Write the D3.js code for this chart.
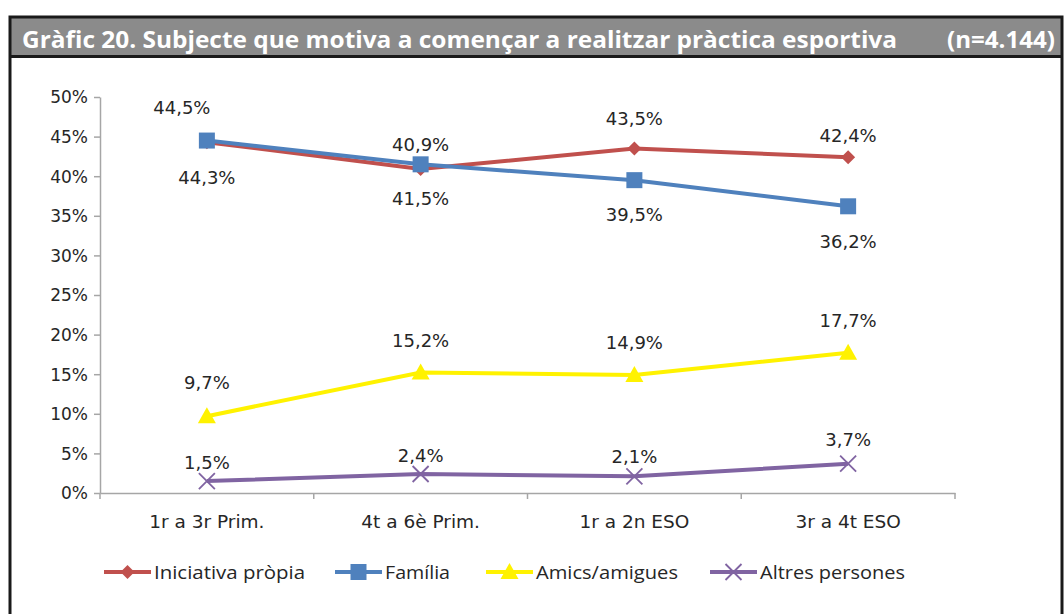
<!DOCTYPE html>
<html>
<head>
<meta charset="utf-8">
<script src="https://cdn.jsdelivr.net/npm/d3@7"></script>
<style>
  body { margin: 0; background: #fff; }
  text { font-family: "DejaVu Sans", Verdana, sans-serif; fill: #262626; }
</style>
</head>
<body>
<script>
// chart values
var categories = ["1r a 3r Prim.", "4t a 6è Prim.", "1r a 2n ESO", "3r a 4t ESO"];
var seriesNames = ["Iniciativa pròpia", "Família", "Amics/amigues", "Altres persones"];
var iniciativa = [44.3, 40.9, 43.5, 42.4];
var familia = [44.5, 41.5, 39.5, 36.2];
var amics = [9.7, 15.2, 14.9, 17.7];
var altres = [1.5, 2.4, 2.1, 3.7];
var yTicks = [0, 5, 10, 15, 20, 25, 30, 35, 40, 45, 50];
var title = "Gràfic 20. Subjecte que motiva a començar a realitzar pràctica esportiva";
var nLabel = "(n=4.144)";

window.onload = function(){
	var w = 1064, h = 614;
	var svg = d3.select("body").append("svg")
		.attr("width", w)
		.attr("height", h);

	//frame + header band
	svg.append("rect")
		.attr("x", 10).attr("y", 17)
		.attr("width", 1051).attr("height", 40)
		.style("fill", "#8b8b8b");
	svg.append("path")
		.attr("d", "M10,620 V17 H1062 V620 M10,56.5 H1062")
		.style("fill", "none")
		.style("stroke", "#1a1a1a")
		.style("stroke-width", 3);

	svg.append("text")
		.attr("x", 22).attr("y", 48)
		.style("fill", "#fff")
		.style("font-family", "'Open Sans', sans-serif")
		.style("font-weight", "bold")
		.style("font-size", "24px")
		.attr("textLength", 875)
		.attr("lengthAdjust", "spacingAndGlyphs")
		.text(title);
	svg.append("text")
		.attr("x", 1055).attr("y", 48)
		.attr("text-anchor", "end")
		.style("fill", "#fff")
		.style("font-family", "'Open Sans', sans-serif")
		.style("font-weight", "bold")
		.style("font-size", "24px")
		.attr("textLength", 108)
		.attr("lengthAdjust", "spacingAndGlyphs")
		.text(nLabel);

	//scales
	var x = d3.scaleBand().domain(categories).range([100, 955]);
	var y = d3.scaleLinear().domain([0, 50]).range([493, 97]);
	var cx = function(c){ return x(c) + x.bandwidth() / 2; };

	//axes
	var yAxis = svg.append("g")
		.attr("class", "axis")
		.attr("transform", "translate(100,0)")
		.call(d3.axisLeft(y).tickValues(yTicks).tickSize(6).tickSizeOuter(0)
			.tickFormat(function(d){ return d + "%"; }));
	var xAxis = svg.append("g")
		.attr("class", "axis")
		.attr("transform", "translate(0,493)")
		.call(d3.axisBottom(x).tickSize(0).tickSizeOuter(0));
	//category separators
	xAxis.selectAll(".sep")
		.data(d3.range(categories.length + 1))
		.enter().append("line")
		.attr("x1", function(i){ return 100 + i * x.bandwidth(); })
		.attr("x2", function(i){ return 100 + i * x.bandwidth(); })
		.attr("y1", 0).attr("y2", 6)
		.style("stroke", "#a6a6a6").style("stroke-width", 1.5);

	svg.selectAll(".axis path, .axis line").style("stroke", "#a6a6a6").style("stroke-width", 1.5);
	yAxis.selectAll("text").attr("x", -12).attr("dy", "0.35em").style("font-size", "17px").style("font-family", "'DejaVu Sans', sans-serif").style("fill", "#262626");
	xAxis.selectAll("text").attr("y", 22).attr("dy", "0.71em").style("font-size", "18.5px").style("font-family", "'DejaVu Sans', sans-serif").style("fill", "#262626");

	//series
	var series = [
		{name: seriesNames[0], values: iniciativa, color: "#C0504D", marker: "diamond", labelDy: [36, -24, -30, -21]},
		{name: seriesNames[1], values: familia, color: "#4F81BD", marker: "square", labelDy: [-33, 34, 35, 35], labelDx: [-25, 0, 0, 0]},
		{name: seriesNames[2], values: amics, color: "#FFF200", marker: "triangle", labelDy: [-33, -32, -32, -32]},
		{name: seriesNames[3], values: altres, color: "#8064A2", marker: "cross", labelDy: [-18, -18, -20, -24]}
	];

	var line = d3.line()
		.x(function(d, i){ return cx(categories[i]); })
		.y(function(d){ return y(d); });

	function drawMarker(g, type, color){
		if (type === "diamond") {
			g.append("path").attr("d", "M0,-7 L7,0 L0,7 L-7,0 Z").style("fill", color);
		} else if (type === "square") {
			g.append("rect").attr("x", -8).attr("y", -8).attr("width", 16).attr("height", 16).style("fill", color);
		} else if (type === "triangle") {
			g.append("path").attr("d", "M0,-9 L9,7 L-9,7 Z").style("fill", color);
		} else {
			g.append("path").attr("d", "M-8,-8 L8,8 M-8,8 L8,-8").style("stroke", color).style("stroke-width", 1.8).style("fill", "none");
		}
	}

	series.forEach(function(s){
		svg.append("path")
			.datum(s.values)
			.attr("d", line)
			.style("fill", "none")
			.style("stroke", s.color)
			.style("stroke-width", 4);

		s.values.forEach(function(v, i){
			var g = svg.append("g").attr("transform", "translate(" + cx(categories[i]) + "," + y(v) + ")");
			drawMarker(g, s.marker, s.color);
		});
	});

	//data labels on top
	series.forEach(function(s){
		svg.selectAll(null)
			.data(s.values)
			.enter().append("text")
			.attr("x", function(d, i){ return cx(categories[i]) + (s.labelDx ? s.labelDx[i] : 0); })
			.attr("y", function(d, i){ return y(d) + s.labelDy[i]; })
			.attr("dy", "0.35em")
			.attr("text-anchor", "middle")
			.style("font-size", "18px")
			.text(function(d){ return d3.format(".1f")(d).replace(".", ",") + "%"; });
	});

	//legend
	var legendX = [104, 335, 486, 710];
	var legendW = [151, 65, 142, 145];
	var legend = svg.selectAll(".legend")
		.data(series)
		.enter().append("g")
		.attr("class", "legend")
		.attr("transform", function(d, i){ return "translate(" + legendX[i] + ",572)"; });
	legend.append("line")
		.attr("x1", 0).attr("x2", 47)
		.style("stroke", function(d){ return d.color; })
		.style("stroke-width", 4);
	legend.each(function(d){
		var m = d3.select(this).append("g").attr("transform", "translate(23.5,0)");
		drawMarker(m, d.marker, d.color);
	});
	legend.append("text")
		.attr("x", 50).attr("dy", "0.35em")
		.style("font-family", "'Open Sans', sans-serif")
		.style("font-size", "19px")
		.attr("textLength", function(d, i){ return legendW[i]; })
		.attr("lengthAdjust", "spacingAndGlyphs")
		.text(function(d){ return d.name; });
};
</script>
</body>
</html>
